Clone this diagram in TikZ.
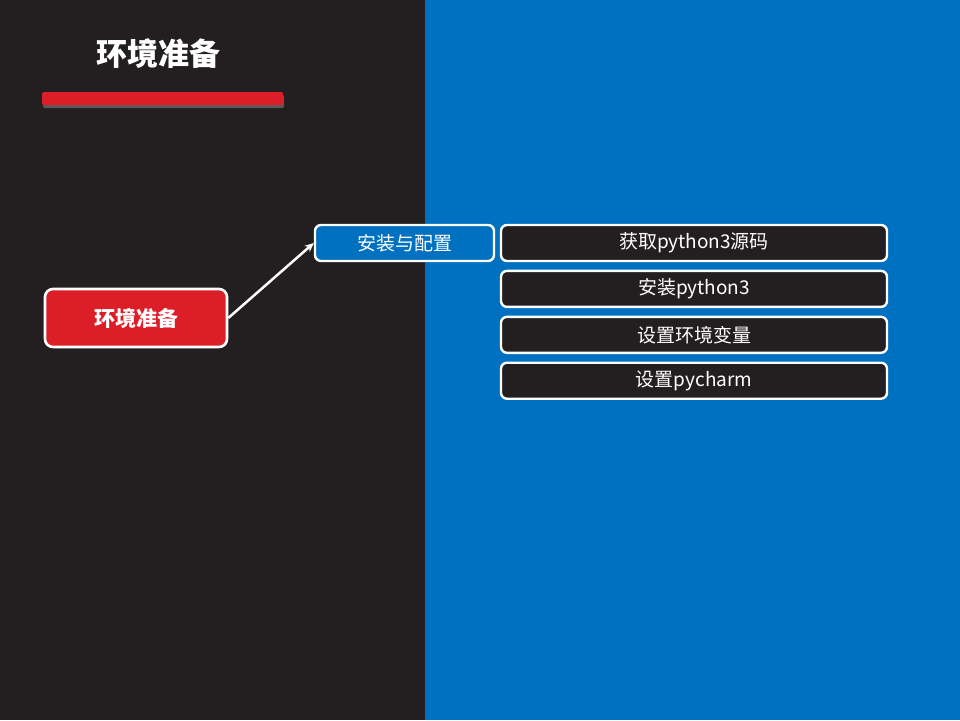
\documentclass[tikz,border=0pt]{standalone}
\usepackage{fontspec}
\setmainfont{Noto Sans CJK SC}
\usetikzlibrary{positioning,arrows.meta,shadows}
\definecolor{panelDark}{HTML}{231F20}
\definecolor{panelBlue}{HTML}{0070C0}
\definecolor{accentRed}{HTML}{DC1E28}
\begin{document}
\begin{tikzpicture}
            [
            x = 1pt, y = -1pt,
            node distance = 7.5pt,
            ]
            \tikzstyle{topic node}=[rectangle,rounded corners=8pt,draw=white,line width=2.6pt,fill=accentRed,text=white,minimum width=182pt,minimum height=58pt,font=\fontsize{21}{24}\selectfont\bfseries]
            \tikzstyle{branch node}=[rectangle,rounded corners=6pt,draw=white,line width=2.4pt,fill=panelBlue,text=white,minimum width=179pt,minimum height=36pt,inner sep=0pt,font=\fontsize{19}{22}\selectfont]
            \tikzstyle{task node}=[rectangle,rounded corners=6pt,draw=white,line width=2.4pt,fill=panelDark,text=white,minimum width=386pt,minimum height=36pt,inner sep=0pt,font=\fontsize{19}{22}\selectfont]

            % background panels
            \fill[panelDark] (0,0) rectangle (425,720);
            \fill[panelBlue] (425,0) rectangle (960,720);
            \useasboundingbox (0,0) rectangle (960,720);

            % heading
            \node[text=white,font=\fontsize{31}{36}\selectfont\bfseries] (title) at (158,54) {环境准备};
            \fill[accentRed,rounded corners=1.5pt,drop shadow={opacity=0.6,shadow xshift=1pt,shadow yshift=-3pt}] (42,92) rectangle (283,105);

            \node[topic node] (env) at (136,318) {环境准备};
            \node[branch node] (setup) at (404.5,243) {安装与配置};

            \node[task node] (source) at (694,243) {获取python3源码};
            \node[task node, below=of source] (install) {安装python3};
            \node[task node, below=of install] (vars) {设置环境变量};
            \node[task node, below=of vars] (ide) {设置pycharm};

            \draw[white,line width=2.5pt,-{Stealth[length=9pt,width=8pt]}] (env.east) -- (setup.west);
        \end{tikzpicture}
\end{document}
